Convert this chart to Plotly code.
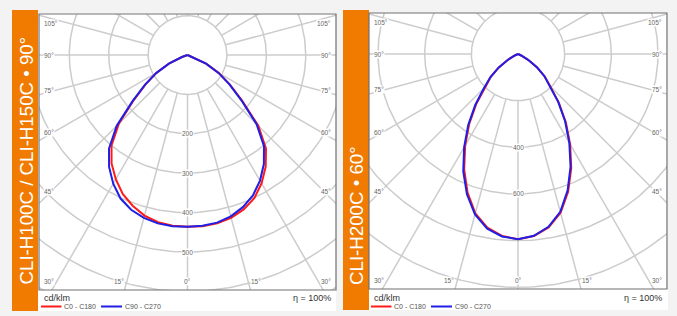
import numpy as np
import plotly.graph_objects as go

W, H = 677, 316

# ---------------- data (cd/klm) ----------------
gamma = [0, 5, 10, 15, 20, 25, 30, 35, 40, 45, 50, 55, 60, 65, 70, 75, 80, 85, 90]

p1_title = "CLI-H100C / CLI-H150C • 90°"
p1_c0 = [436, 436, 434, 428, 417, 401, 376, 346, 310, 254, 182, 132, 92, 52, 15, 0, 0, 0, 0]
p1_c180 = [436, 435, 431, 422, 407, 389, 364, 336, 300, 246, 178, 130, 91, 52, 15, 0, 0, 0, 0]
p1_c90 = [436, 435, 432, 424, 411, 393, 368, 338, 302, 248, 178, 130, 91, 52, 15, 0, 0, 0, 0]
p1_c270 = [436, 436, 434, 428, 418, 402, 377, 347, 310, 254, 182, 132, 92, 52, 15, 0, 0, 0, 0]
p1_rings = [100, 200, 300, 400, 500, 600, 700, 800, 900]
p1_ring_labels = [200, 300, 400, 500]

p2_title = "CLI-H200C • 60°"
p2_c0 = [794, 783, 755, 705, 628, 540, 447, 358, 272, 195, 150, 100, 50, 15, 0, 0, 0, 0, 0]
p2_c180 = [794, 783, 756, 707, 632, 546, 453, 364, 277, 199, 151, 100, 50, 15, 0, 0, 0, 0, 0]
p2_c90 = [794, 782, 752, 700, 622, 533, 440, 352, 268, 192, 148, 99, 50, 15, 0, 0, 0, 0, 0]
p2_c270 = [794, 785, 760, 712, 640, 555, 462, 372, 285, 205, 155, 102, 51, 15, 0, 0, 0, 0, 0]
p2_rings = [200, 400, 600, 800, 1000, 1200, 1400, 1600]
p2_ring_labels = [400, 600]

spoke_angles = list(range(0, 360, 15))
side_labels = [105, 90, 75, 60, 45]
bottom_labels = [30, 15]
series_names = ["C0 - C180", "C90 - C270"]
unit_label = "cd/klm"
eff_label = "η = 100%"

# ---------------- styles / layout (pixels) ----------------
RED = "#ff1a1a"
BLUE = "#1f1fe6"
GRID = "#cccccc"
ORANGE = "#f07b00"
BG = "#f3f3f3"
FONT = "Liberation Sans"

panels = [
    dict(title=p1_title, left=(p1_c180, p1_c270), right=(p1_c0, p1_c90),
         rings=p1_rings, ring_labels=p1_ring_labels,
         band=(12, 38, 10, 311), box=(38, 336, 13, 311), frame=(39, 336, 14, 290),
         cy=55, scale=0.394),
    dict(title=p2_title, left=(p2_c180, p2_c270), right=(p2_c0, p2_c90),
         rings=p2_rings, ring_labels=p2_ring_labels,
         band=(343, 369, 10, 310), box=(369, 668, 13, 310), frame=(369, 667, 13, 289),
         cy=54, scale=0.2333),
]


def px(x, y):
    return x / W, 1 - y / H


fig = go.Figure()
shapes = []
annotations = []

g = np.radians(gamma)

for k, P in enumerate(panels, start=1):
    xa = "x" if k == 1 else f"x{k}"
    ya = "y" if k == 1 else f"y{k}"
    fx0, fx1, fy0, fy1 = P["frame"]
    cx = (fx0 + fx1) / 2
    cy = P["cy"]
    s = P["scale"]

    fig.update_layout(**{
        ("xaxis" if k == 1 else f"xaxis{k}"): dict(
            domain=[fx0 / W, fx1 / W], range=[(fx0 - cx) / s, (fx1 - cx) / s],
            visible=False, fixedrange=True, anchor=ya),
        ("yaxis" if k == 1 else f"yaxis{k}"): dict(
            domain=[1 - fy1 / H, 1 - fy0 / H], range=[-(fy1 - cy) / s, (cy - fy0) / s],
            visible=False, fixedrange=True, anchor=xa),
    })

    # grid rings
    gx, gy = [], []
    t = np.linspace(0, 2 * np.pi, 361)
    for r in P["rings"]:
        gx += list(r * np.cos(t)) + [None]
        gy += list(r * np.sin(t)) + [None]
    r0 = P["rings"][0]
    for a in spoke_angles:
        ar = np.radians(a)
        gx += [r0 * np.sin(ar), 5000 * np.sin(ar), None]
        gy += [-r0 * np.cos(ar), -5000 * np.cos(ar), None]
    fig.add_trace(go.Scatter(x=gx, y=gy, mode="lines", xaxis=xa, yaxis=ya,
                             line=dict(color=GRID, width=1.5), hoverinfo="skip",
                             showlegend=False))

    # curves
    for (lv, rv, name, col) in [(P["left"][0], P["right"][0], series_names[0], RED),
                                (P["left"][1], P["right"][1], series_names[1], BLUE)]:
        lv = np.array(lv, float)
        rv = np.array(rv, float)
        x = np.concatenate([-(lv * np.sin(g))[::-1], (rv * np.sin(g))[1:]])
        y = np.concatenate([-(lv * np.cos(g))[::-1], -(rv * np.cos(g))[1:]])
        fig.add_trace(go.Scatter(x=x, y=y, mode="lines", xaxis=xa, yaxis=ya, name=name,
                                 line=dict(color=col, width=2), showlegend=False))

    lab_font = dict(family=FONT, size=6.5, color="#666666")
    # ring labels
    for r in P["ring_labels"]:
        annotations.append(dict(x=0, y=-r, xref=xa, yref=ya, text=str(r), showarrow=False,
                                font=lab_font, bgcolor="white", borderpad=0,
                                xanchor="center", yanchor="middle"))
    # side angle labels
    for a in side_labels:
        ar = np.radians(a)
        xd = (fx0 + 10 - cx) / s
        yd = xd * np.cos(ar) / np.sin(ar)
        yd = min(yd, (cy - fy0 - 9) / s)
        ys = 2 if a < 90 else 0
        annotations.append(dict(x=(fx0 + 4 - cx) / s, y=yd, xref=xa, yref=ya, text=f"{a}°",
                                showarrow=False, font=lab_font, bgcolor="white", borderpad=0,
                                xanchor="left", yanchor="middle", yshift=ys))
        annotations.append(dict(x=(fx1 - 4 - cx) / s, y=yd, xref=xa, yref=ya, text=f"{a}°",
                                showarrow=False, font=lab_font, bgcolor="white", borderpad=0,
                                xanchor="right", yanchor="middle", yshift=ys))
    # bottom angle labels
    yb = fy1 - 8.5
    for a in bottom_labels:
        dx = (yb - cy) * np.tan(np.radians(a))
        annotations.append(dict(x=(-dx - 2) / s, y=-(yb - cy) / s, xref=xa, yref=ya,
                                text=f"{a}°", showarrow=False, font=lab_font, bgcolor="white",
                                borderpad=0, xanchor="right", yanchor="middle"))
        annotations.append(dict(x=(dx + 2) / s, y=-(yb - cy) / s, xref=xa, yref=ya,
                                text=f"{a}°", showarrow=False, font=lab_font, bgcolor="white",
                                borderpad=0, xanchor="left", yanchor="middle"))
    annotations.append(dict(x=0, y=-(yb - cy) / s, xref=xa, yref=ya, text="0°",
                            showarrow=False, font=lab_font, bgcolor="white", borderpad=0,
                            xanchor="center", yanchor="middle"))

    # boxes
    bx0, bx1, by0, by1 = P["box"]
    X0, Y0 = px(bx0, by0)
    X1, Y1 = px(bx1, by1)
    shapes.append(dict(type="rect", xref="paper", yref="paper", x0=X0, x1=X1, y0=Y1, y1=Y0,
                       fillcolor="white", line=dict(width=0), layer="below"))
    ox0, ox1, oy0, oy1 = P["band"]
    X0, Y0 = px(ox0, oy0)
    X1, Y1 = px(ox1, oy1)
    shapes.append(dict(type="rect", xref="paper", yref="paper", x0=X0, x1=X1, y0=Y1, y1=Y0,
                       fillcolor=ORANGE, line=dict(width=0), layer="below"))
    X0, Y0 = px(fx0, fy0)
    X1, Y1 = px(fx1, fy1)
    shapes.append(dict(type="rect", xref="paper", yref="paper", x0=X0, x1=X1, y0=Y1, y1=Y0,
                       fillcolor="rgba(0,0,0,0)", line=dict(color="#707070", width=1.2),
                       layer="above"))

    # vertical title in the orange band
    tx, ty = px((ox0 + ox1) / 2 + 0.5, 287)
    annotations.append(dict(x=tx, y=ty, xref="paper", yref="paper", text=P["title"],
                            textangle=-90, showarrow=False, xanchor="center", yanchor="bottom",
                            font=dict(family=FONT, size=18.7, color="white")))

    # legend row
    ux, uy = px(fx0 + 3, 298)
    annotations.append(dict(x=ux, y=uy, xref="paper", yref="paper", text=unit_label,
                            showarrow=False, xanchor="left", yanchor="middle",
                            font=dict(family=FONT, size=9, color="#333333")))
    ex, ey = px(fx1 - 3, 298)
    annotations.append(dict(x=ex, y=ey, xref="paper", yref="paper", text=eff_label,
                            showarrow=False, xanchor="right", yanchor="middle",
                            font=dict(family=FONT, size=9, color="#333333")))
    for (lx0, lx1, name, col) in [(fx0 + 2, fx0 + 22.5, series_names[0], RED),
                                  (fx0 + 62, fx0 + 83, series_names[1], BLUE)]:
        X0, Y0 = px(lx0, 306.5)
        X1, _ = px(lx1, 306.5)
        shapes.append(dict(type="line", xref="paper", yref="paper", x0=X0, x1=X1, y0=Y0, y1=Y0,
                           line=dict(color=col, width=2)))
        tx, ty = px(lx1 + 0.5, 306.5)
        annotations.append(dict(x=tx, y=ty, xref="paper", yref="paper", text=name,
                                showarrow=False, xanchor="left", yanchor="middle",
                                font=dict(family=FONT, size=7, color="#555555")))

fig.update_layout(
    width=W, height=H, margin=dict(l=0, r=0, t=0, b=0),
    paper_bgcolor=BG, plot_bgcolor="white",
    showlegend=False, shapes=shapes, annotations=annotations,
)

fig.write_html(
    "out.html",
    config={"displayModeBar": False},
    post_script="document.body.style.margin='0';document.body.style.background='" + BG + "';",
)
